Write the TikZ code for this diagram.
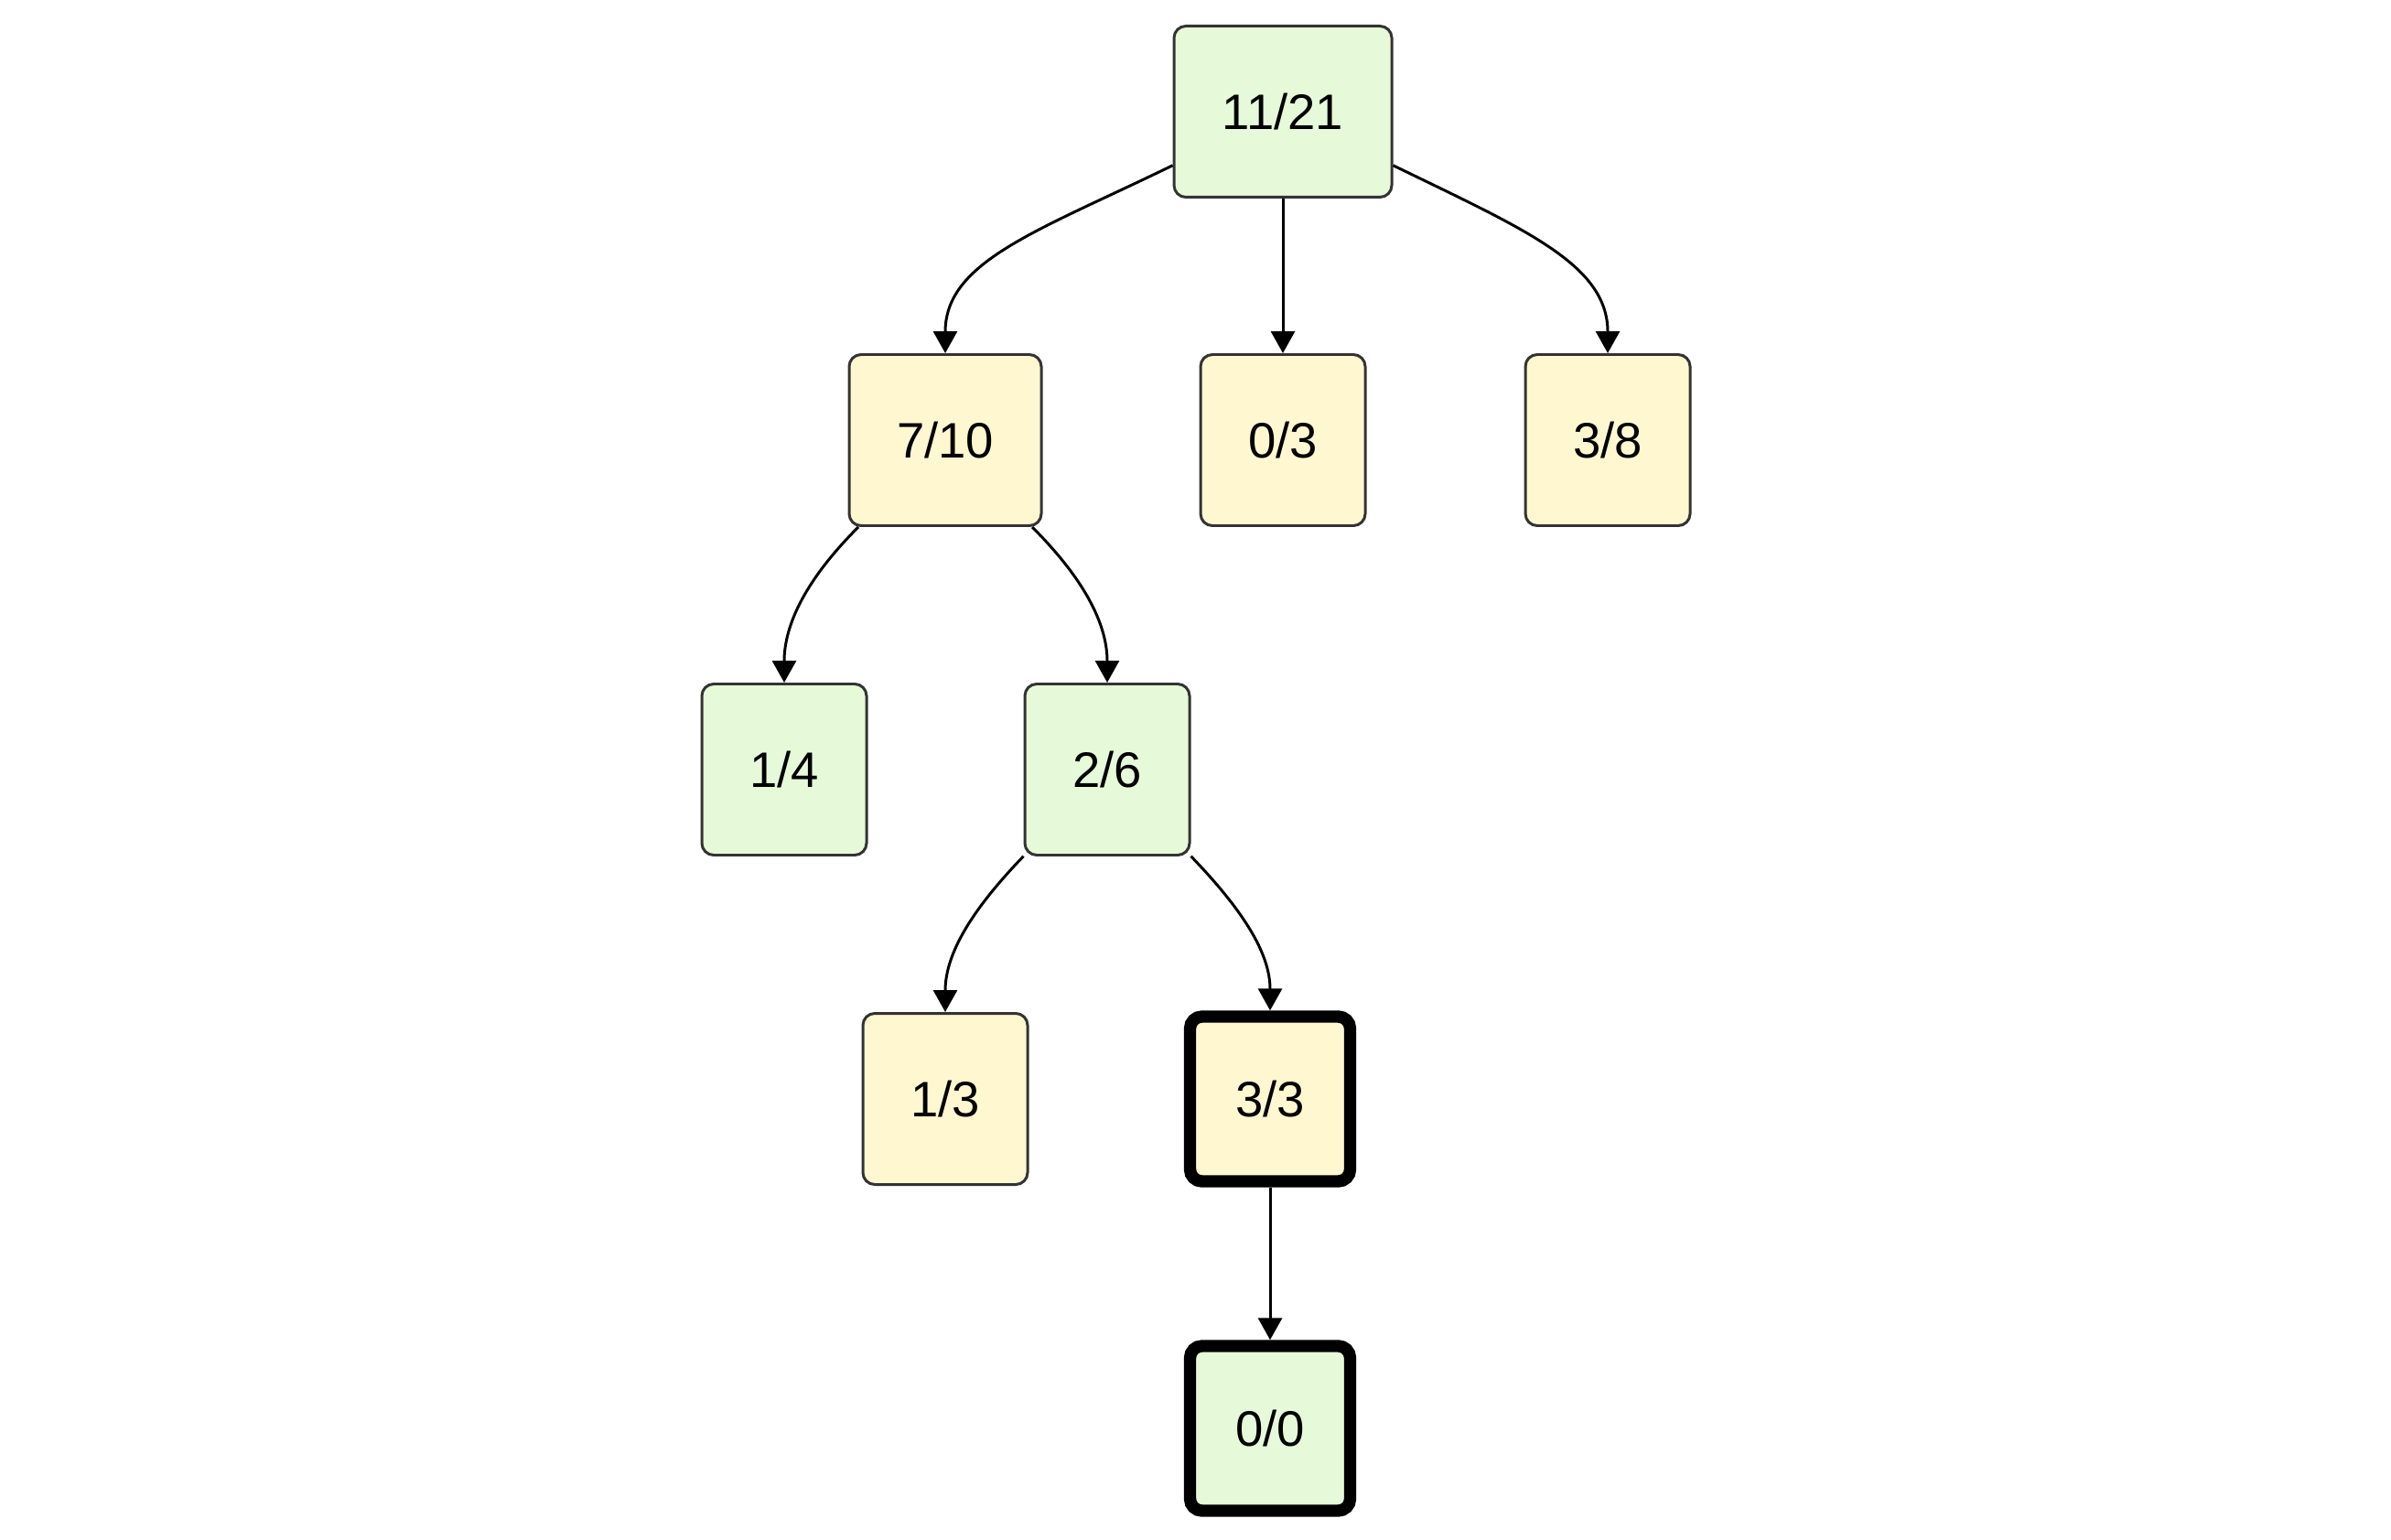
\documentclass[tikz,border=0pt]{standalone}
\usepackage{fontspec}
\setmainfont{Liberation Sans}
\usepackage{tikz}
\usetikzlibrary{arrows.meta}
\definecolor{greenbox}{HTML}{E6F9D9}
\definecolor{yellowbox}{HTML}{FEF7D0}
\definecolor{boxline}{HTML}{333333}

\tikzset{
  tbox/.style={draw=boxline, line width=0.85pt, rounded corners=0.13cm,
    minimum width=1.80cm, minimum height=1.87cm, inner sep=0pt,
    font=\fontsize{15.5}{18}\selectfont},
  gbox/.style={tbox, fill=greenbox},
  ybox/.style={tbox, fill=yellowbox},
  hot/.style={draw=black, line width=3.8pt, minimum width=1.75cm, minimum height=1.80cm},
  link/.style={->, line width=0.85pt}
}

\begin{document}
\begin{tikzpicture}[>={Triangle[length=0.24cm, width=0.26cm]}]
    \useasboundingbox (0,0) rectangle (26.13,16.82);

    % Root and first level
    \node[gbox, minimum width=2.38cm] (root) at (14.02, 15.60) {11/21};
    \node[ybox, minimum width=2.10cm] (n710) at (10.33, 12.01) {7/10};
    \node[ybox] (n03) at (14.02, 12.01) {0/3};
    \node[ybox] (n38) at (17.57, 12.01) {3/8};

    % Second level
    \node[gbox] (n14) at (8.57, 8.41) {1/4};
    \node[gbox] (n26) at (12.10, 8.41) {2/6};

    % Third level and the marked path
    \node[ybox] (n13) at (10.33, 4.81) {1/3};
    \node[ybox, hot] (n33) at (13.88, 4.81) {3/3};
    \node[gbox, hot] (n00) at (13.88, 1.21) {0/0};

    % Edges
    \draw[link] (root.206) to[out=206, in=90, out looseness=1.3, in looseness=0.8] (n710.north);
    \draw[link] (root.south) -- (n03.north);
    \draw[link] (root.-26) to[out=-26, in=90, out looseness=1.3, in looseness=0.8] (n38.north);
    \draw[link] (n710.225) to[out=225, in=90, out looseness=1.2, in looseness=0.8] (n14.north);
    \draw[link] (n710.-45) to[out=-45, in=90, out looseness=1.2, in looseness=0.8] (n26.north);
    \draw[link] (n26.226) to[out=226, in=90, out looseness=1.2, in looseness=0.8] (n13.north);
    \draw[link] (n26.-46) to[out=-46, in=90, out looseness=1.2, in looseness=0.8] (n33.north);
    \draw[link] (n33.south) -- (n00.north);
  \end{tikzpicture}
\end{document}
